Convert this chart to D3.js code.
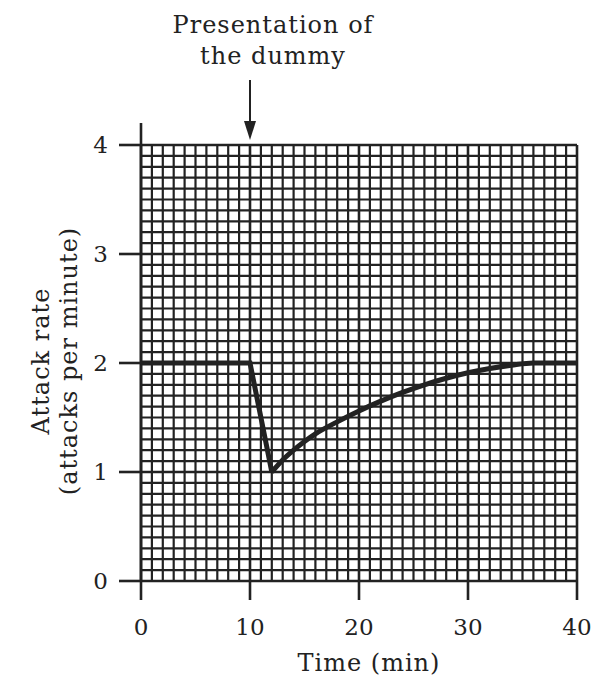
<!DOCTYPE html>
<html><head><meta charset="utf-8">
<script src="https://cdn.jsdelivr.net/npm/d3@7/dist/d3.min.js"></script>
<style>body{margin:0;background:#fff}text{font-family:"DejaVu Serif","Liberation Serif",serif;fill:#222}</style>
</head><body><svg id="c" width="601" height="686"></svg>
<script>
const times = [0, 10, 12, 13, 14, 15, 16, 18, 20, 22, 24, 26, 28, 30, 32, 34, 36, 38, 40];
const rates = [2, 2, 1.0, 1.11, 1.20, 1.28, 1.35, 1.46, 1.56, 1.65, 1.73, 1.80, 1.86, 1.91, 1.95, 1.98, 2.0, 2.0, 2.0];
const xTicks = [0, 10, 20, 30, 40];
const yTicks = [0, 1, 2, 3, 4];
const annotationLines = ["Presentation of", "the dummy"];
const annotationTime = 10;

const svg = d3.select("#c");
const x = d3.scaleLinear().domain([0, 40]).range([141, 577]);
const y = d3.scaleLinear().domain([0, 4]).range([581, 145]);
const ink = "#222";
const fs = 23, tfs = 24, ls = 1;

// grid
const g = svg.append("g");
g.selectAll("line.v").data(d3.range(0, 41)).join("line")
  .attr("x1", d => x(d)).attr("x2", d => x(d)).attr("y1", y(4)).attr("y2", y(0))
  .attr("stroke", ink).attr("stroke-width", d => d % 10 === 0 ? 2.6 : 2.2);
g.selectAll("line.h").data(d3.range(0, 41)).join("line")
  .attr("y1", d => y(d / 10)).attr("y2", d => y(d / 10)).attr("x1", x(0)).attr("x2", x(40))
  .attr("stroke", ink).attr("stroke-width", d => d % 10 === 0 ? 2.6 : 2.2);

// axes extensions
svg.append("line").attr("x1", x(0)).attr("x2", x(0)).attr("y1", 123).attr("y2", y(0)).attr("stroke", ink).attr("stroke-width", 2.6);
svg.selectAll("line.yt").data(yTicks).join("line")
  .attr("x1", 119).attr("x2", x(0)).attr("y1", d => y(d)).attr("y2", d => y(d)).attr("stroke", ink).attr("stroke-width", 2.6);
svg.selectAll("line.xt").data(xTicks).join("line")
  .attr("x1", d => x(d)).attr("x2", d => x(d)).attr("y1", y(0)).attr("y2", 600).attr("stroke", ink).attr("stroke-width", 2.6);

// tick labels
svg.selectAll("text.yl").data(yTicks).join("text")
  .attr("x", 108).attr("y", d => y(d)).attr("dy", "0.36em").attr("text-anchor", "end")
  .attr("font-size", fs).text(d => d);
svg.selectAll("text.xl").data(xTicks).join("text")
  .attr("x", d => x(d)).attr("y", 635).attr("text-anchor", "middle")
  .attr("font-size", fs).text(d => d);

svg.append("text").attr("x", 369).attr("y", 671).attr("text-anchor", "middle").attr("font-size", tfs).attr("letter-spacing", ls).text("Time (min)");
svg.append("text").attr("transform", "translate(49,361) rotate(-90)").attr("text-anchor", "middle").attr("font-size", tfs).attr("letter-spacing", ls).text("Attack rate");
svg.append("text").attr("transform", "translate(77,361) rotate(-90)").attr("text-anchor", "middle").attr("font-size", tfs).attr("letter-spacing", ls).text("(attacks per minute)");

// annotation
svg.selectAll("text.an").data(annotationLines).join("text")
  .attr("x", 273).attr("y", (d, i) => 33 + i * 31).attr("text-anchor", "middle").attr("font-size", tfs).attr("letter-spacing", ls).text(d => d);
const ax = x(annotationTime);
svg.append("line").attr("x1", ax).attr("x2", ax).attr("y1", 80).attr("y2", 124).attr("stroke", ink).attr("stroke-width", 2);
svg.append("path").attr("d", `M${ax - 6},121 L${ax + 6},121 L${ax},140 Z`).attr("fill", ink);

// data line
const data = times.map((t, i) => [t, rates[i]]);
const upTo = data.slice(0, 3), rest = data.slice(2);
const lineGen = d3.line().x(d => x(d[0])).y(d => y(d[1]));
svg.append("path").attr("d", lineGen(upTo)).attr("fill", "none").attr("stroke", ink).attr("stroke-width", 5).attr("stroke-linejoin", "miter");
svg.append("path").attr("d", lineGen.curve(d3.curveMonotoneX)(rest)).attr("fill", "none").attr("stroke", ink).attr("stroke-width", 5);
</script></body></html>
